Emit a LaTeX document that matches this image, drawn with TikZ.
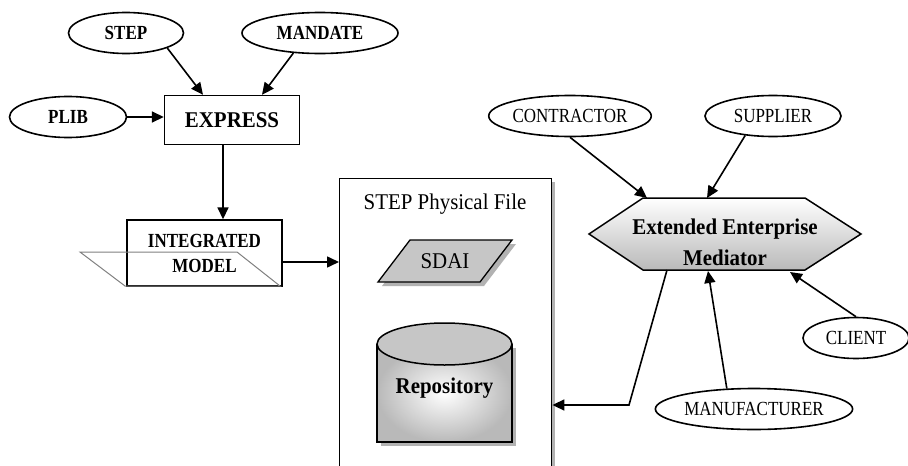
\documentclass[tikz,border=0pt]{standalone}
\usepackage{fontspec}
\setmainfont{Liberation Serif}
\newfontfamily\ovalfam{Liberation Serif}[FakeStretch=0.85]
\newfontfamily\boxfam{Liberation Serif}[FakeStretch=0.93]
\usetikzlibrary{shapes.geometric,arrows.meta}

\newcommand{\ovalfont}{\ovalfam\fontsize{20}{25}\selectfont}
\newcommand{\boxfont}{\boxfam\fontsize{22.5}{31}\selectfont}

\begin{document}
\begin{tikzpicture}[x=1pt, y=-1pt, >={Triangle[length=12pt,width=11pt]}]
    \tikzstyle{oval} = [ellipse, draw, line width=1.6pt, inner sep=0pt, minimum height=41pt, font=\ovalfont]
    \tikzstyle{boldoval} = [oval, font=\ovalfont\bfseries]
    \tikzstyle{box} = [rectangle, draw, line width=1.4pt, fill=white, inner sep=0pt, align=center]
    \tikzstyle{link} = [->, line width=1.6pt]
    \tikzstyle{shade3d} = [fill=gray!60, draw=none]

    \useasboundingbox (0,0) rectangle (908,466);
    \clip (0,0) rectangle (908,466);

    % Standards feeding EXPRESS
    \node [boldoval, minimum width=115pt] (stepstd) at (126,33) {STEP};
    \node [boldoval, minimum width=156pt] (mandate) at (320,33) {MANDATE};
    \node [boldoval, minimum width=117pt] (plib) at (68,117) {PLIB};
    \node [box, minimum width=135pt, minimum height=49pt, font=\boxfont\bfseries] (express) at (232,120) {EXPRESS};

    \draw [link] (stepstd.-20) -- ([xshift=-29pt]express.north);
    \draw [link] (mandate.-143) -- ([xshift=30pt]express.north);
    \draw [link] (plib.east) -- (plib.east -| express.west);

    % Integrated model
    \node [box, minimum width=155pt, minimum height=66pt, font=\ovalfont\bfseries] (intmodel) at (204.5,253) {INTEGRATED\\MODEL};
    \draw [gray, line width=1pt] (80,252) -- (237,252) -- (280,286) -- (125,286) -- cycle;
    \draw [link] ([xshift=18.5pt]intmodel.north |- express.south) -- ([xshift=18.5pt]intmodel.north);

    % STEP physical file
    \fill [shade3d] (551,182) rectangle (555,470);
    \node [box, anchor=north west, minimum width=212pt, minimum height=300pt] (stepfile) at (339,178) {};
    \node [font=\boxfont] (filetitle) at (445,204) {STEP Physical File};
    \draw [link] ([yshift=-9pt]intmodel.east) -- ([yshift=-9pt]intmodel.east -| stepfile.west);

    % SDAI
    \fill [shade3d] (382,286) -- (414,244) -- (516,244) -- (484,286) -- cycle;
    \draw [fill=gray!45, line width=1.3pt] (378,282) -- (410,240) -- (512,240) -- (480,282) -- cycle;
    \node [font=\boxfont] (sdai) at (445,261) {SDAI};

    % Repository
    \fill [shade3d] (381,348) rectangle (516,446);
    \shade [inner color=white, outer color=gray!55] (377,344) rectangle (512,442);
    \draw [line width=1.5pt] (377,344) -- (377,442) -- (512,442) -- (512,344);
    \draw [fill=gray!45, line width=1.5pt] (444.5,344) ellipse [x radius=67.5, y radius=21];
    \node [font=\boxfont\bfseries] (repo) at (444.5,388) {Repository};

    % Mediator
    \coordinate (hexW) at (589,234);
    \coordinate (hexE) at (861,234);
    \path [draw, line width=1.5pt, top color=white, bottom color=gray!55] (hexW) -- (643,198) -- (805,198) -- (hexE) -- (805,270) -- (643,270) -- cycle;
    \node [font=\boxfont\bfseries, align=center] (eem) at (725,242) {Extended Enterprise\\Mediator};

    \coordinate (inA) at (647,198);
    \coordinate (inB) at (707,198);
    \coordinate (inC) at (708,271);
    \coordinate (inD) at (790,272);
    \coordinate (outE) at (667,270);
    \coordinate (bend) at (629,405);

    % Partners
    \node [oval, minimum width=155pt] (contractor) at (570,116) {CONTRACTOR};
    \node [oval, minimum width=136pt] (supplier) at (773,116) {SUPPLIER};
    \node [oval, minimum width=106pt] (client) at (856,338) {CLIENT};
    \node [oval, minimum width=174pt] (manufacturer) at (754,409) {MANUFACTURER};

    % Connections
    \draw [link] (contractor.south) -- (inA);
    \draw [link] (supplier.-145) -- (inB);
    \draw [link] (manufacturer.143) -- (inC);
    \draw [link] (client.north) -- (inD);
    \draw [link] (outE) -- (bend) -- (bend -| stepfile.east);
\end{tikzpicture}
\end{document}
